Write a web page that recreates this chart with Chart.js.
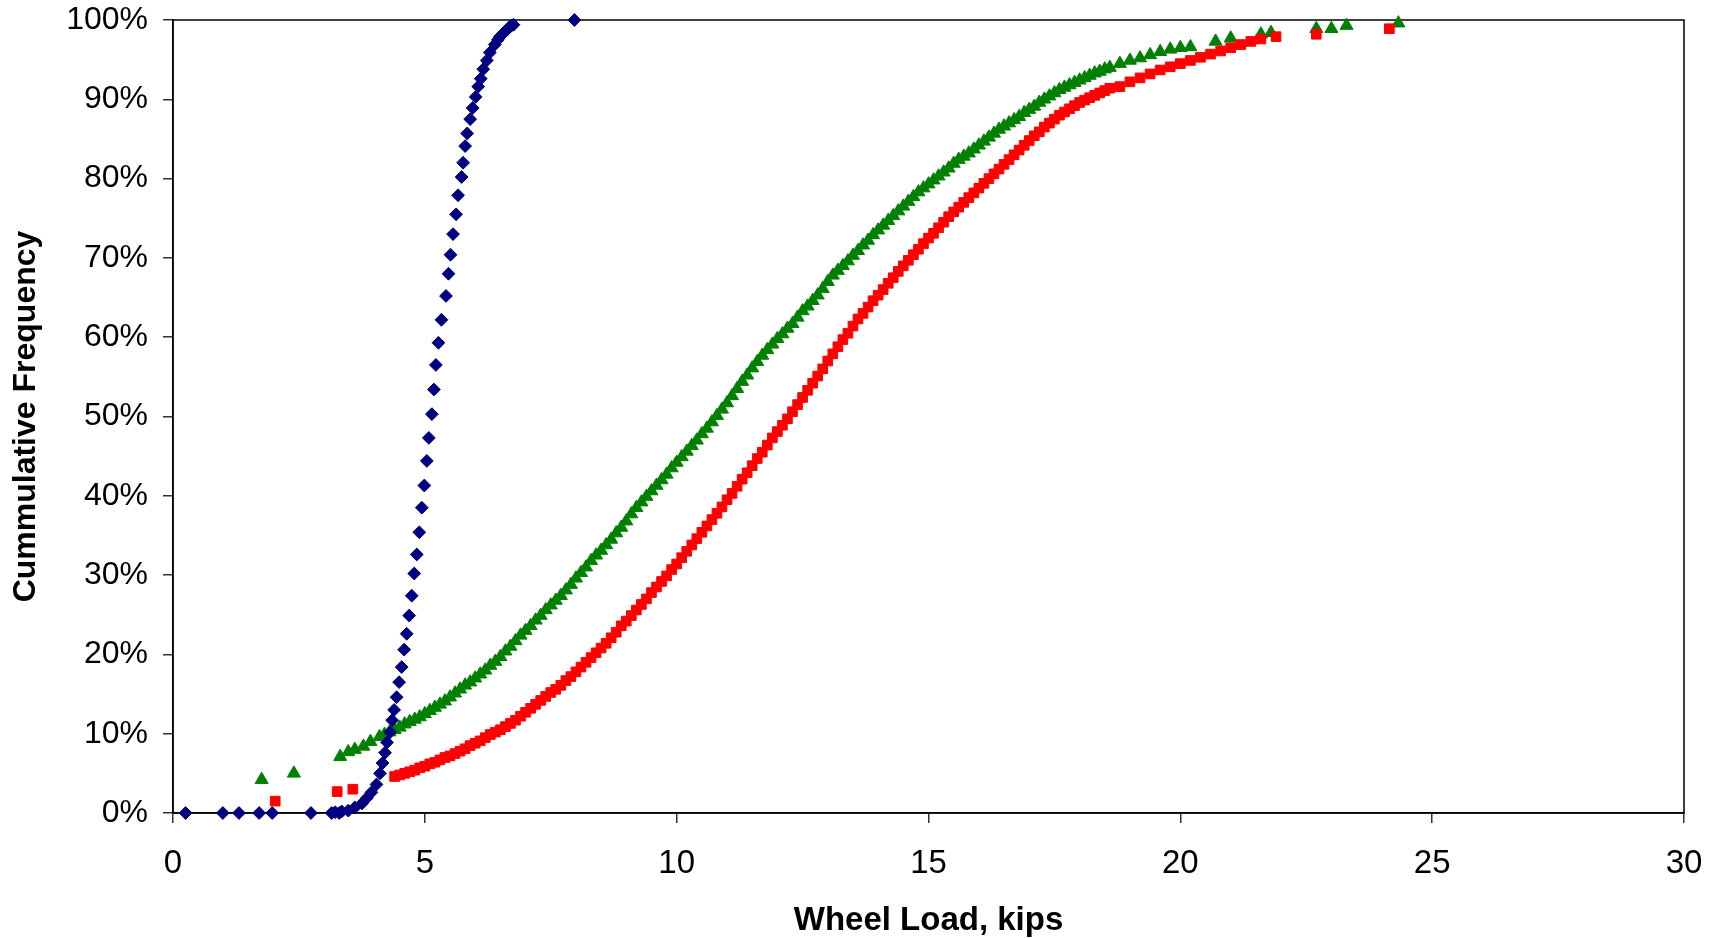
<!DOCTYPE html>
<html>
<head>
<meta charset="utf-8">
<script src="https://cdn.jsdelivr.net/npm/chart.js@4"></script>
<style>
  html, body { margin: 0; padding: 0; background: #fff; }
  #c { display: block; }
</style>
</head>
<body>
<canvas id="c" width="1719" height="938"></canvas>
<script>
// ---- Data (wheel load in kips, cumulative frequency in %) ----
const xTicks = [0, 5, 10, 15, 20, 25, 30];
const yTicks = [0, 10, 20, 30, 40, 50, 60, 70, 80, 90, 100];

const blueLoad = [0.25,0.99,1.31,1.71,1.97,2.74,3.15,3.22,3.30,3.35,3.48,3.61,3.75,3.85,3.94,4.04,4.11,4.16,4.21,4.25,4.31,4.35,4.39,4.44,4.49,4.54,4.59,4.64,4.69,4.74,4.79,4.84,4.89,4.94,4.99,5.04,5.08,5.14,5.18,5.22,5.27,5.33,5.42,5.47,5.51,5.56,5.62,5.66,5.73,5.76,5.80,5.84,5.90,5.95,6.01,6.06,6.11,6.16,6.23,6.29,6.39,6.45,6.49,6.55,6.62,6.68,6.72,6.76,7.97];
const blueFreq = [0,0,0,0,0,0,0,0.1,0,0.2,0.3,0.7,1.2,1.9,2.6,3.6,5.0,6.3,7.6,8.9,10.2,11.7,13.0,14.6,16.5,18.4,20.6,22.6,24.9,27.4,30.2,32.6,35.4,38.5,41.3,44.4,47.3,50.3,53.4,56.5,59.3,62.2,65.2,68.0,70.4,73.0,75.5,77.9,80.2,82.0,84.1,85.7,87.5,88.9,90.3,91.6,92.6,93.8,94.9,95.9,96.9,97.5,97.9,98.3,98.7,99.1,99.3,99.4,100];

const redLoad = [2.03,3.26,3.57,4.4,4.5,4.6,4.7,4.8,4.9,5.0,5.1,5.2,5.3,5.4,5.5,5.6,5.7,5.8,5.9,6.0,6.1,6.2,6.3,6.4,6.5,6.6,6.7,6.8,6.9,7.0,7.1,7.2,7.3,7.4,7.5,7.6,7.7,7.8,7.9,8.0,8.1,8.2,8.3,8.4,8.5,8.6,8.7,8.8,8.9,9.0,9.1,9.2,9.3,9.4,9.5,9.6,9.7,9.8,9.9,10.0,10.1,10.2,10.3,10.4,10.5,10.6,10.7,10.8,10.9,11.0,11.1,11.2,11.3,11.4,11.5,11.6,11.7,11.8,11.9,12.0,12.1,12.2,12.3,12.4,12.5,12.6,12.7,12.8,12.9,13.0,13.1,13.2,13.3,13.4,13.5,13.6,13.7,13.8,13.9,14.0,14.1,14.2,14.3,14.4,14.5,14.6,14.7,14.8,14.9,15.0,15.1,15.2,15.3,15.4,15.5,15.6,15.7,15.8,15.9,16.0,16.1,16.2,16.3,16.4,16.5,16.6,16.7,16.8,16.9,17.0,17.1,17.2,17.3,17.4,17.5,17.6,17.7,17.8,17.9,18.0,18.1,18.2,18.3,18.4,18.5,18.6,18.8,19.0,19.2,19.4,19.6,19.8,20.0,20.2,20.4,20.6,20.8,21.0,21.2,21.4,21.6,21.9,22.7,24.15];
const redFreq = [1.5,2.7,3.0,4.6,4.8,5.0,5.2,5.4,5.7,5.9,6.2,6.4,6.7,7.0,7.2,7.5,7.8,8.1,8.5,8.8,9.1,9.5,9.9,10.2,10.5,10.9,11.3,11.7,12.2,12.7,13.2,13.7,14.2,14.7,15.2,15.6,16.1,16.7,17.2,17.8,18.4,19.0,19.6,20.2,20.8,21.4,22.1,22.8,23.6,24.2,24.9,25.6,26.3,27.0,27.8,28.5,29.2,29.9,30.7,31.4,32.2,33.0,33.8,34.6,35.4,36.2,37.0,37.8,38.6,39.5,40.3,41.2,42.1,42.9,43.8,44.7,45.5,46.4,47.3,48.1,48.9,49.7,50.6,51.5,52.4,53.3,54.2,55.1,56.0,57.0,57.9,58.8,59.7,60.5,61.4,62.3,63.0,63.8,64.6,65.3,66.0,66.8,67.5,68.3,69.0,69.7,70.4,71.1,71.8,72.5,73.1,73.8,74.5,75.2,75.8,76.4,77.0,77.6,78.2,78.8,79.4,80.0,80.6,81.2,81.8,82.4,83.0,83.6,84.2,84.8,85.4,85.9,86.5,87.0,87.5,88.0,88.4,88.8,89.2,89.6,89.9,90.2,90.5,90.8,91.1,91.4,91.6,92.2,92.7,93.2,93.7,94.1,94.5,94.9,95.3,95.7,96.1,96.5,96.9,97.3,97.6,97.9,98.2,98.9,99.5];

const greenLoad = [1.76,2.40,3.32,3.48,3.61,3.78,3.92,4.1,4.2,4.3,4.4,4.5,4.6,4.7,4.8,4.9,5.0,5.1,5.2,5.3,5.4,5.5,5.6,5.7,5.8,5.9,6.0,6.1,6.2,6.3,6.4,6.5,6.6,6.7,6.8,6.9,7.0,7.1,7.2,7.3,7.4,7.5,7.6,7.7,7.8,7.9,8.0,8.1,8.2,8.3,8.4,8.5,8.6,8.7,8.8,8.9,9.0,9.1,9.2,9.3,9.4,9.5,9.6,9.7,9.8,9.9,10.0,10.1,10.2,10.3,10.4,10.5,10.6,10.7,10.8,10.9,11.0,11.1,11.2,11.3,11.4,11.5,11.6,11.7,11.8,11.9,12.0,12.1,12.2,12.3,12.4,12.5,12.6,12.7,12.8,12.9,13.0,13.1,13.2,13.3,13.4,13.5,13.6,13.7,13.8,13.9,14.0,14.1,14.2,14.3,14.4,14.5,14.6,14.7,14.8,14.9,15.0,15.1,15.2,15.3,15.4,15.5,15.6,15.7,15.8,15.9,16.0,16.1,16.2,16.3,16.4,16.5,16.6,16.7,16.8,16.9,17.0,17.1,17.2,17.3,17.4,17.5,17.6,17.7,17.8,17.9,18.0,18.1,18.2,18.3,18.4,18.5,18.6,18.8,19.0,19.2,19.4,19.6,19.8,20.0,20.2,20.7,21.0,21.6,21.8,22.7,23.0,23.3,24.33];
const greenFreq = [4.2,5.0,7.1,7.7,8.0,8.4,9.0,9.6,9.9,10.2,10.5,10.8,11.2,11.5,11.8,12.1,12.5,12.9,13.3,13.7,14.1,14.6,15.1,15.6,16.1,16.5,17.0,17.5,18.0,18.6,19.1,19.7,20.4,21.0,21.7,22.4,23.0,23.6,24.3,24.9,25.6,26.2,26.8,27.4,28.1,28.8,29.6,30.3,31.0,31.8,32.5,33.1,33.8,34.5,35.3,36.0,36.8,37.7,38.5,39.2,39.9,40.6,41.3,42.0,42.7,43.5,44.2,44.9,45.6,46.3,47.0,47.8,48.5,49.3,50.1,50.9,51.7,52.6,53.5,54.4,55.2,56.1,56.9,57.7,58.4,59.1,59.8,60.4,61.1,61.7,62.5,63.3,63.9,64.6,65.3,66.1,67.0,67.8,68.4,69.0,69.6,70.3,70.9,71.6,72.2,72.9,73.5,74.1,74.7,75.3,75.9,76.5,77.1,77.7,78.3,78.8,79.3,79.8,80.3,80.8,81.3,81.9,82.4,82.8,83.2,83.7,84.2,84.7,85.2,85.7,86.2,86.6,87.0,87.4,87.8,88.3,88.7,89.1,89.6,90.0,90.4,90.8,91.2,91.5,91.8,92.1,92.4,92.7,93.0,93.3,93.5,93.8,94.0,94.5,94.9,95.2,95.6,96.0,96.3,96.5,96.6,97.3,97.7,98.2,98.4,98.9,98.9,99.3,99.6];

function pts(xs, ys) { return xs.map((x, i) => ({ x: x, y: ys[i] })); }

const FONT = "'Liberation Sans', Arial, sans-serif";

const frame = {
  id: 'frame',
  beforeDatasetsDraw(chart) {
    const a = chart.chartArea, ctx = chart.ctx;
    ctx.save();
    ctx.strokeStyle = '#000';
    ctx.lineWidth = 1.5;
    ctx.strokeRect(a.left, a.top, a.right - a.left, a.bottom - a.top);
    ctx.restore();
  }
};

function zeroPad(s) { s.paddingTop = 0; s.paddingBottom = 0; s.paddingLeft = 0; s.paddingRight = 0; }

new Chart(document.getElementById('c'), {
  type: 'scatter',
  data: {
    datasets: [
      { label: 'A', data: pts(blueLoad, blueFreq), pointStyle: 'rectRot', pointRadius: 6.4,
        backgroundColor: '#000080', borderColor: '#000080', borderWidth: 1, clip: false },
      { label: 'B', data: pts(redLoad, redFreq), pointStyle: 'rect', pointRadius: 6.8,
        backgroundColor: '#FF0000', borderColor: '#FF0000', borderWidth: 1, clip: false },
      { label: 'C', data: pts(greenLoad, greenFreq), pointStyle: 'triangle', pointRadius: 7.5,
        backgroundColor: '#008000', borderColor: '#008000', borderWidth: 1, clip: false }
    ]
  },
  options: {
    responsive: false,
    animation: false,
    devicePixelRatio: 1,
    layout: { padding: { top: 20, right: 35, left: 0, bottom: 0 } },
    plugins: { legend: { display: false }, tooltip: { enabled: false } },
    scales: {
      x: {
        type: 'linear', min: 0, max: 30,
        afterBuildTicks: s => { s.ticks = xTicks.map(v => ({ value: v })); },
        ticks: { color: '#000', font: { family: FONT, size: 33 }, padding: 21, maxRotation: 0 },
        grid: { display: true, drawOnChartArea: false, drawTicks: true, tickLength: 10, color: '#333', lineWidth: 1.5 },
        border: { display: true, color: '#000', width: 1.5 },
        title: { display: true, text: 'Wheel Load, kips', color: '#000',
                 font: { family: FONT, size: 33, weight: 'bold', lineHeight: 1 }, padding: { top: 0, bottom: 1 } },
        afterFit: s => { s.height = 125; zeroPad(s); }
      },
      y: {
        type: 'linear', min: 0, max: 100,
        afterBuildTicks: s => { s.ticks = yTicks.map(v => ({ value: v })); },
        ticks: { color: '#000', font: { family: FONT, size: 32 }, padding: 15, callback: v => v + '%' },
        grid: { display: true, drawOnChartArea: false, drawTicks: true, tickLength: 10, color: '#333', lineWidth: 1.5 },
        border: { display: true, color: '#000', width: 1.5 },
        title: { display: true, text: 'Cummulative Frequency', color: '#000',
                 font: { family: FONT, size: 32, weight: 'bold', lineHeight: 1 }, padding: { top: 10, bottom: 0 } },
        afterFit: s => { s.width = 173; zeroPad(s); }
      }
    }
  },
  plugins: [frame]
});
</script>
</body>
</html>
